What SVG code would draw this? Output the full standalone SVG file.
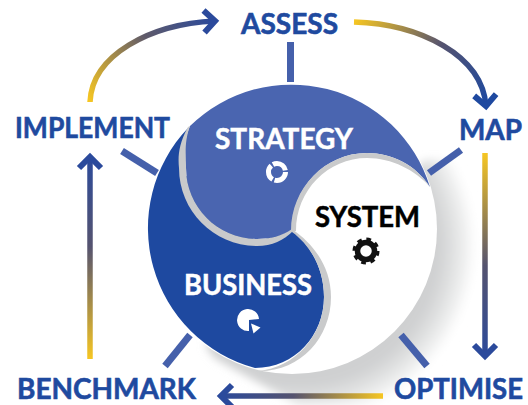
<svg xmlns="http://www.w3.org/2000/svg" width="528" height="405" viewBox="0 0 528 405">
<style>
.lbl{font-family:"Lato","Liberation Sans",sans-serif;font-weight:700;font-size:28px;fill:#1f4a9f;stroke:#1f4a9f;stroke-width:.6}
.in{font-family:"Lato","Liberation Sans",sans-serif;font-weight:700;font-size:29px;fill:#fff;stroke:#fff;stroke-width:.5}
.tick{stroke:#4560ab;stroke-width:7;fill:none}
.arr{stroke-width:5.5;fill:none}
.band{fill:#c9cacb}
</style>
<defs>
<radialGradient id="sh" gradientUnits="userSpaceOnUse" cx="300" cy="246" r="176">
<stop offset="0.78" stop-color="#cfd0d1"/><stop offset="0.9" stop-color="#e6e7e7"/><stop offset="1" stop-color="#fff"/>
</radialGradient>
<filter id="soft" x="-10%" y="-10%" width="120%" height="120%"><feGaussianBlur stdDeviation="4"/></filter>
<linearGradient id="g1" gradientUnits="userSpaceOnUse" x1="90" y1="102" x2="215" y2="21"><stop offset="0" stop-color="#f6c622"/><stop offset="0.55" stop-color="#5f5a6a"/><stop offset="1" stop-color="#2b4a9c"/></linearGradient>
<linearGradient id="g2" gradientUnits="userSpaceOnUse" x1="354" y1="22" x2="486" y2="106"><stop offset="0" stop-color="#f6c622"/><stop offset="0.55" stop-color="#55536f"/><stop offset="1" stop-color="#1e49a0"/></linearGradient>
<linearGradient id="g3" gradientUnits="userSpaceOnUse" x1="485" y1="153" x2="485" y2="358"><stop offset="0" stop-color="#f6c622"/><stop offset="0.55" stop-color="#55536f"/><stop offset="1" stop-color="#2b4a9c"/></linearGradient>
<linearGradient id="g4" gradientUnits="userSpaceOnUse" x1="383" y1="396" x2="220" y2="396"><stop offset="0" stop-color="#f6c622"/><stop offset="0.55" stop-color="#55536f"/><stop offset="1" stop-color="#2b4a9c"/></linearGradient>
<linearGradient id="g5" gradientUnits="userSpaceOnUse" x1="90" y1="359" x2="90" y2="155"><stop offset="0" stop-color="#f6c622"/><stop offset="0.55" stop-color="#55536f"/><stop offset="1" stop-color="#2b4a9c"/></linearGradient>
<marker id="hA" markerUnits="userSpaceOnUse" markerWidth="24" markerHeight="28" refX="15" refY="14" orient="auto"><path d="M4,3 L15,14 L4,25" fill="none" stroke="#2b4a9c" stroke-width="6"/></marker>
<marker id="hB" markerUnits="userSpaceOnUse" markerWidth="24" markerHeight="28" refX="15" refY="14" orient="auto"><path d="M4,3 L15,14 L4,25" fill="none" stroke="#1e49a0" stroke-width="6"/></marker>
<clipPath id="shc"><path d="M425,160H528V405H298L214,358L205,345Z"/></clipPath>
</defs>

<g id="shadow"><g filter="url(#soft)"><circle cx="300" cy="246" r="176" fill="url(#sh)" clip-path="url(#shc)"/></g></g>

<g id="disk-white"><circle cx="292" cy="229" r="145" fill="#fff"/></g>

<g id="connectors">
<path class="tick" d="M290.500,42V82"/>
<path class="tick" d="M122,151L157,173"/>
<path class="tick" d="M461,150L429,173"/>
<path class="tick" d="M401,335L427,366"/>
<path class="tick" d="M190,335L165,366"/>
<path class="arr" stroke="url(#g1)" d="M90,102C92,55 150,24 215,21" marker-end="url(#hA)"/>
<path class="arr" stroke="url(#g2)" d="M354,22C420,24 482,55 486,106" marker-end="url(#hB)"/>
<path class="arr" stroke="url(#g3)" d="M485,153V356" marker-end="url(#hA)"/>
<path class="arr" stroke="url(#g4)" d="M383,396H221" marker-end="url(#hA)"/>
<path class="arr" stroke="url(#g5)" d="M90,359V157" marker-end="url(#hA)"/>
</g>

<g id="business">
<path d="M188,128A145,145 0 0 0 255,368C295,368 324,335 324,297C324,268 310,245 292,230L257,242L180,170Z" fill="#1e49a0"/>
<path class="band" d="M292,229C315,245 331,268 331,297C331,338 300,372 258,371C295,368 324,335 324,297C324,268 310,245 292,232Z"/>
<text class="in" x="248" y="295" text-anchor="middle" textLength="128" lengthAdjust="spacingAndGlyphs">BUSINESS</text>
<path d="M249,320L259,319A11,11 0 1 0 249,331Z" fill="#fff"/>
<path d="M251,323.500L260.500,327.500L253.500,333.500Z" fill="#fff"/>
</g>

<g id="strategy">
<path d="M430,187A145,145 0 0 0 190,126C183,142 184,155 186,168C186,207 218,239 257,239C270,239 282,236 292,230C292,188 325,153 367,153C392,153 416,165 430,187Z" fill="#4a65b0"/>
<path class="band" d="M188,127C178,145 178,158 179,168C179,211 214,246 257,246C272,246 284,240 293,231L292,229C282,236 270,239 257,239C218,239 186,207 186,168C186,155 184,142 190,126Z"/>
<path class="band" d="M291,231C291,188 325,153 367,153C392,153 416,165 430,187C415,170 392,158 367,158C328,158 296,190 296,231Z"/>
<text class="in" x="284" y="149" text-anchor="middle" textLength="138" lengthAdjust="spacingAndGlyphs">STRATEGY</text>
<circle cx="277" cy="172" r="8.500" fill="none" stroke="#fff" stroke-width="5" stroke-dasharray="15.800 2"/>
</g>

<g id="system">
<text x="367.500" y="227" text-anchor="middle" textLength="105" lengthAdjust="spacingAndGlyphs" style="font-family:Lato,'Liberation Sans',sans-serif;font-weight:700;font-size:29px;fill:#000;stroke:#000;stroke-width:.5">SYSTEM</text>
<circle cx="366" cy="251" r="8.500" fill="none" stroke="#111" stroke-width="5.500"/>
<circle cx="366" cy="251" r="12" fill="none" stroke="#111" stroke-width="3" stroke-dasharray="4.700 4.725"/>
</g>

<g id="assess"><text class="lbl" x="289.500" y="34" text-anchor="middle" textLength="97" lengthAdjust="spacingAndGlyphs">ASSESS</text></g>
<g id="map"><text class="lbl" x="490.500" y="140" text-anchor="middle" textLength="63" lengthAdjust="spacingAndGlyphs">MAP</text></g>
<g id="optimise"><text class="lbl" x="458.500" y="399" text-anchor="middle" textLength="129" lengthAdjust="spacingAndGlyphs">OPTIMISE</text></g>
<g id="benchmark"><text class="lbl" x="106.500" y="399" text-anchor="middle" textLength="179" lengthAdjust="spacingAndGlyphs">BENCHMARK</text></g>
<g id="implement"><text class="lbl" x="92.500" y="138" text-anchor="middle" textLength="155" lengthAdjust="spacingAndGlyphs">IMPLEMENT</text></g>
</svg>
